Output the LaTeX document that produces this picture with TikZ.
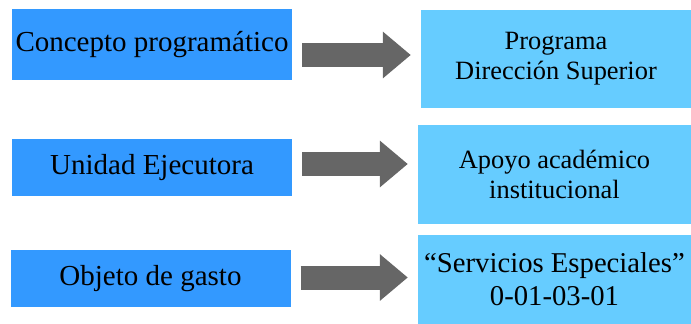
\documentclass[tikz,border=0pt]{standalone}
\usepackage{fontspec}
\setmainfont{Liberation Serif}
\usepackage{tikz}
\usetikzlibrary{arrows.meta}
\definecolor{conceptblue}{HTML}{3399FF}
\definecolor{valueblue}{HTML}{66CCFF}
\definecolor{arrowgray}{HTML}{666666}
\tikzset{
	conceptbox/.style = {fill = conceptblue, inner sep = 0pt, minimum width = 280pt, font = \fontsize{29}{31}\selectfont},
	valuebox/.style = {fill = valueblue, inner sep = 0pt, align = center, font = \fontsize{26.4}{30}\selectfont},
	bigarrow/.style = {draw = arrowgray, line width = 24pt, shorten <= 10pt, shorten >= 10pt, -{Triangle[length = 28pt, width = 45pt]}}
}
\begin{document}
\begin{tikzpicture}[x = 1pt, y = -1pt]
\useasboundingbox (0, 0) rectangle (691, 324);
% Concepts
\node[conceptbox, minimum height = 71pt] (concepto) at (152, 44.5) {Concepto programático};
\node[conceptbox, minimum height = 57pt] (unidad) at (152, 167.5) {Unidad Ejecutora};
\node[conceptbox, minimum height = 57pt] (objeto) at (150.5, 278.5) {Objeto de gasto};
% Values
\node[valuebox, minimum width = 270pt, minimum height = 98pt] (programa) at (556, 59) {Programa\\Dirección Superior};
\node[valuebox, minimum width = 273pt, minimum height = 99pt] (apoyo) at (554.5, 174.5) {Apoyo académico\\institucional};
\node[valuebox, minimum width = 273pt, minimum height = 89pt, font = \fontsize{28.7}{33}\selectfont] (servicios) at (554.5, 279.5) {“Servicios Especiales”\\0-01-03-01};
% Arrows
\draw[bigarrow] ([yshift = -10.5pt]concepto.east) -- ([yshift = -10.5pt]concepto.east -| programa.west);
\draw[bigarrow] ([yshift = 3.5pt]unidad.east) -- ([yshift = 3.5pt]unidad.east -| apoyo.west);
\draw[bigarrow] ([yshift = 1pt]objeto.east) -- ([yshift = 1pt]objeto.east -| servicios.west);
\end{tikzpicture}
\end{document}
